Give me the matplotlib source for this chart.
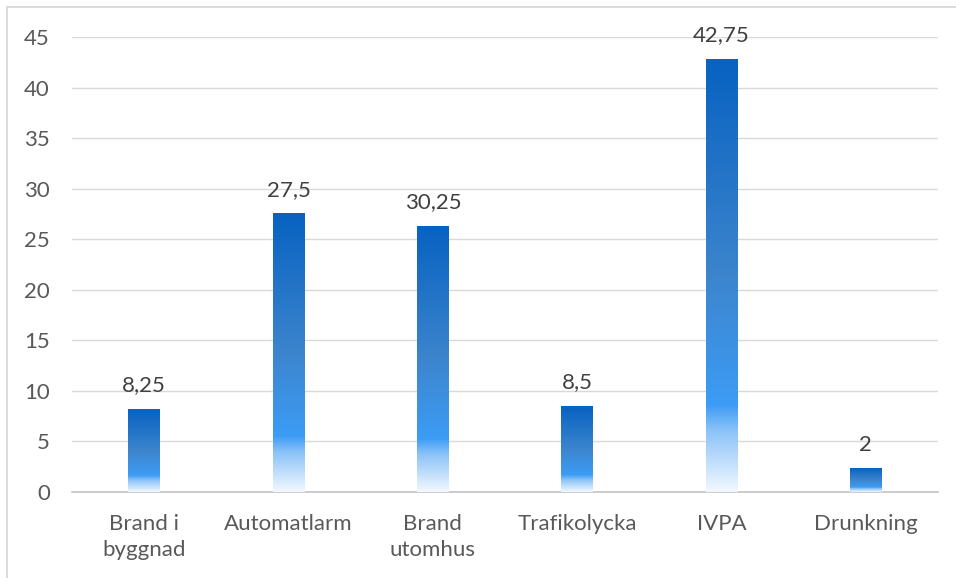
import numpy as np
import matplotlib.pyplot as plt
from matplotlib.colors import LinearSegmentedColormap
from matplotlib.patches import Rectangle

# Data
kategorier = ['Brand i\nbyggnad', 'Automatlarm', 'Brand\nutomhus', 'Trafikolycka', 'IVPA', 'Drunkning']
hojd = [8.2, 27.5, 26.3, 8.5, 42.8, 2.3]
etiketter = ['8,25', '27,5', '30,25', '8,5', '42,75', '2']
yticks = [0, 5, 10, 15, 20, 25, 30, 35, 40, 45]

plt.rcParams['font.family'] = ['Lato', 'DejaVu Sans']

# Gradient: mörkblå upptill -> ljusblå -> nästan vit nertill
cmap = LinearSegmentedColormap.from_list('grad', [
    (0.0, '#0862c1'),
    (0.5, '#3c85cd'),
    (0.8, '#3d9cf5'),
    (0.86, '#8cc3f8'),
    (1.0, '#f2f8ff'),
])
grad = np.linspace(0, 1, 256).reshape(-1, 1)

fig = plt.figure(figsize=(9.56, 5.78), dpi=100)
ax = fig.add_axes([72/956, 1 - 492/578, (938-72)/956, (492-37)/578])

x = np.arange(len(kategorier))
w = 0.22
for i, h in enumerate(hojd):
    ax.imshow(grad, cmap=cmap, extent=[x[i]-w/2, x[i]+w/2, 0, h],
              aspect='auto', origin='upper', zorder=3, interpolation='bilinear')
    ax.text(x[i], h + 1.4, etiketter[i], ha='center', va='bottom',
            fontsize=16, color='#404040', zorder=4)

ax.set_xlim(-0.5, len(kategorier) - 0.5)
ax.set_ylim(0, 45)
ax.set_yticks(yticks)
ax.set_xticks(x)
ax.set_xticklabels(kategorier, fontsize=16, color='#595959', linespacing=1.35)
ax.tick_params(axis='y', labelsize=16, labelcolor='#595959', length=0, pad=16)
ax.tick_params(axis='x', length=0, pad=16)
ax.grid(axis='y', color='#d9d9d9', linewidth=1, zorder=0)
ax.set_axisbelow(True)
for s in ['top', 'right', 'left']:
    ax.spines[s].set_visible(False)
ax.spines['bottom'].set_color('#c8c8c8')
ax.spines['bottom'].set_linewidth(1.3)

# Ram runt diagrammet (bara övre och vänstra kanten syns)
fig.patches.append(Rectangle((7/956, -0.1), 1.2, 1 - 7/578 + 0.1,
                             transform=fig.transFigure, fill=False,
                             edgecolor='#d9d9d9', linewidth=1.3))

fig.savefig('out.png', dpi=100)
